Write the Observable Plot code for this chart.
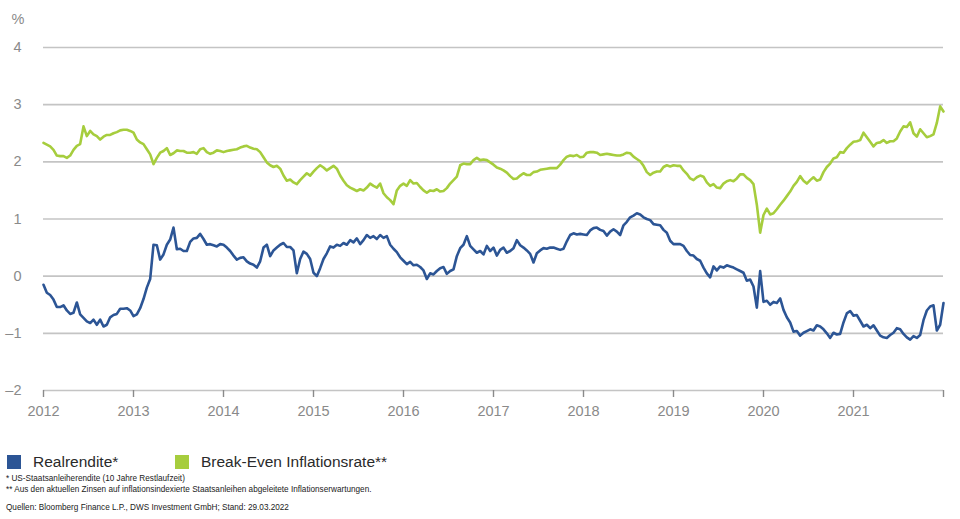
<!DOCTYPE html>
<html><head><meta charset="utf-8">
<script src="https://cdn.jsdelivr.net/npm/d3@7"></script>
<script src="https://cdn.jsdelivr.net/npm/@observablehq/plot@0.6"></script>
<style>
body{margin:0;background:#fff;font-family:"Liberation Sans",Arial,sans-serif;width:960px;height:519px;overflow:hidden;position:relative}
#chart{position:absolute;left:0;top:0}
.legend{position:absolute;top:453px;left:7px;display:flex;align-items:center;font-size:15.5px;color:#2a2a2a}
.legend .item{display:flex;align-items:center;margin-right:0}
.legend .sw{width:14px;height:14px;display:inline-block;margin-right:12px}
.notes{position:absolute;left:6px;font-size:8.2px;color:#222;white-space:nowrap}
</style>
</head><body>
<div id="chart"></div>
<div class="legend">
  <div class="item" style="width:168px"><span class="sw" style="background:#2c5595"></span><span id="l1"></span></div>
  <div class="item"><span class="sw" style="background:#a6cd3d"></span><span id="l2"></span></div>
</div>
<div class="notes" style="top:474px" id="n1"></div>
<div class="notes" style="top:484.5px" id="n2"></div>
<div class="notes" style="top:502.5px" id="n3"></div>
<script>
const seriesNames = ["Realrendite*", "Break-Even Inflationsrate**"];
const footnotes = [
  "* US-Staatsanleiherendite (10 Jahre Restlaufzeit)",
  "** Aus den aktuellen Zinsen auf inflationsindexierte Staatsanleihen abgeleitete Inflationserwartungen.",
  "Quellen: Bloomberg Finance L.P., DWS Investment GmbH; Stand: 29.03.2022"
];
const yTicks = [-2, -1, 0, 1, 2, 3, 4];
const xTicks = [2012, 2013, 2014, 2015, 2016, 2017, 2018, 2019, 2020, 2021, 2022];
const startYear = 2012;
const pointsPerYear = 27;

const breakEven = [
2.33,2.30,2.27,2.21,2.11,2.10,2.10,2.07,2.11,2.21,2.28,
2.31,2.62,2.45,2.54,2.48,2.45,2.39,2.44,2.47,2.47,
2.50,2.52,2.55,2.56,2.56,2.54,2.51,2.39,2.34,2.31,
2.22,2.13,1.96,2.07,2.16,2.19,2.24,2.12,2.15,2.20,
2.19,2.19,2.16,2.16,2.17,2.14,2.22,2.24,2.17,2.14,
2.16,2.20,2.19,2.17,2.19,2.20,2.21,2.22,2.25,2.27,
2.28,2.25,2.23,2.22,2.17,2.08,1.99,1.94,1.91,1.93,
1.88,1.76,1.67,1.69,1.64,1.61,1.68,1.74,1.80,1.76,
1.83,1.89,1.94,1.90,1.85,1.89,1.93,1.88,1.76,1.67,
1.59,1.55,1.52,1.49,1.52,1.50,1.55,1.62,1.58,1.55,
1.62,1.45,1.38,1.33,1.26,1.50,1.58,1.62,1.58,1.68,
1.62,1.63,1.56,1.50,1.46,1.50,1.49,1.52,1.48,1.49,
1.54,1.62,1.68,1.74,1.94,1.97,1.96,1.96,2.03,2.07,
2.03,2.04,2.03,1.99,1.95,1.90,1.88,1.85,1.81,1.75,
1.70,1.71,1.76,1.80,1.77,1.77,1.82,1.83,1.86,1.87,
1.88,1.89,1.89,1.89,1.95,2.03,2.09,2.11,2.10,2.12,
2.08,2.09,2.16,2.17,2.17,2.16,2.12,2.13,2.14,2.13,
2.12,2.11,2.11,2.13,2.16,2.15,2.09,2.05,2.01,1.93,
1.82,1.77,1.81,1.83,1.83,1.91,1.94,1.92,1.94,1.93,
1.93,1.85,1.79,1.71,1.68,1.73,1.76,1.74,1.64,1.58,
1.61,1.55,1.54,1.62,1.66,1.68,1.66,1.71,1.78,1.78,
1.72,1.68,1.61,1.25,0.76,1.07,1.18,1.08,1.10,1.17,
1.25,1.32,1.40,1.48,1.58,1.65,1.75,1.67,1.62,1.68,
1.73,1.67,1.69,1.82,1.91,1.97,2.06,2.08,2.17,2.16,
2.24,2.30,2.35,2.36,2.38,2.51,2.43,2.35,2.27,2.33,
2.34,2.38,2.33,2.36,2.36,2.41,2.53,2.62,2.61,2.69,
2.50,2.44,2.57,2.50,2.43,2.45,2.48,2.68,2.97,2.88
];

const realRate = [
-0.15,-0.29,-0.33,-0.41,-0.54,-0.54,-0.51,-0.60,-0.66,-0.64,-0.46,
-0.67,-0.73,-0.79,-0.82,-0.76,-0.85,-0.76,-0.88,-0.85,-0.72,
-0.68,-0.66,-0.57,-0.57,-0.56,-0.60,-0.70,-0.67,-0.56,-0.40,
-0.20,-0.05,0.55,0.54,0.29,0.38,0.55,0.64,0.85,0.47,
0.48,0.44,0.44,0.60,0.66,0.67,0.74,0.65,0.55,0.56,
0.54,0.52,0.56,0.55,0.50,0.44,0.36,0.29,0.32,0.33,
0.26,0.22,0.20,0.15,0.26,0.50,0.55,0.35,0.45,0.50,
0.55,0.58,0.51,0.51,0.45,0.05,0.30,0.43,0.39,0.30,
0.06,0.00,0.14,0.30,0.40,0.52,0.50,0.55,0.53,0.58,
0.55,0.63,0.59,0.66,0.56,0.63,0.72,0.67,0.70,0.65,
0.72,0.67,0.70,0.55,0.48,0.42,0.33,0.27,0.21,0.25,
0.19,0.20,0.16,0.10,-0.05,0.05,0.03,0.09,0.14,0.16,
0.04,0.09,0.12,0.35,0.49,0.55,0.70,0.53,0.47,0.41,
0.44,0.38,0.53,0.44,0.50,0.36,0.46,0.50,0.41,0.44,
0.49,0.63,0.54,0.50,0.45,0.39,0.24,0.40,0.45,0.49,
0.48,0.50,0.50,0.48,0.46,0.48,0.61,0.72,0.75,0.73,
0.74,0.73,0.72,0.80,0.84,0.85,0.81,0.79,0.71,0.78,
0.82,0.78,0.72,0.89,0.95,1.03,1.06,1.10,1.08,1.03,
1.00,0.98,0.91,0.90,0.89,0.81,0.76,0.62,0.56,0.56,
0.56,0.53,0.44,0.37,0.36,0.30,0.27,0.15,0.05,-0.02,
0.17,0.10,0.17,0.15,0.19,0.17,0.15,0.12,0.09,0.06,
-0.08,-0.06,-0.18,-0.55,0.09,-0.45,-0.43,-0.50,-0.45,-0.47,
-0.39,-0.59,-0.72,-0.81,-0.97,-0.96,-1.04,-0.99,-0.96,-0.93,
-0.95,-0.86,-0.88,-0.93,-1.00,-1.08,-0.99,-1.02,-1.01,-0.81,
-0.65,-0.61,-0.69,-0.68,-0.78,-0.88,-0.85,-0.91,-0.86,-0.95,
-1.04,-1.07,-1.08,-1.03,-0.99,-0.91,-0.93,-1.01,-1.07,-1.11,
-1.05,-1.08,-1.03,-0.77,-0.60,-0.53,-0.51,-0.95,-0.85,-0.47
];

const toRows = (arr) => arr.map((v, i) => ({year: startYear + i / pointsPerYear, value: v}));
const beRows = toRows(breakEven);
const rrRows = toRows(realRate);

const chart = Plot.plot({
  width: 960,
  height: 430,
  marginLeft: 43,
  marginRight: 17,
  marginTop: 47,
  marginBottom: 40,
  style: {fontFamily: "'Liberation Sans', Arial, sans-serif", color: "#8a8a8a", background: "#fff"},
  x: {domain: [2012, 2022]},
  y: {domain: [-2, 4]},
  marks: [
    Plot.ruleY(yTicks, {stroke: "#c4c4c4", strokeWidth: 1.6}),
    Plot.axisY({ticks: yTicks, tickSize: 0, tickPadding: 22, fontSize: 14.5, label: null,
      tickFormat: d => d < 0 ? "\u2013" + Math.abs(d) : String(d)}),
    Plot.axisX({ticks: xTicks, tickSize: 7, tickPadding: 8, strokeWidth: 1.4, fontSize: 14.5, label: null,
      tickFormat: d => d === 2022 ? "" : String(d)}),
    Plot.text(["%"], {frameAnchor: "top-left", dx: -32, dy: -34, fontSize: 14.5, fill: "#8a8a8a"}),
    Plot.line(beRows, {x: "year", y: "value", stroke: "#a6cd3d", strokeWidth: 2.6, strokeLinejoin: "round"}),
    Plot.line(rrRows, {x: "year", y: "value", stroke: "#2c5595", strokeWidth: 2.6, strokeLinejoin: "round"})
  ]
});
document.getElementById("chart").appendChild(chart);
document.getElementById("l1").textContent = seriesNames[0];
document.getElementById("l2").textContent = seriesNames[1];
document.getElementById("n1").textContent = footnotes[0];
document.getElementById("n2").textContent = footnotes[1];
document.getElementById("n3").textContent = footnotes[2];
</script>
</body></html>
